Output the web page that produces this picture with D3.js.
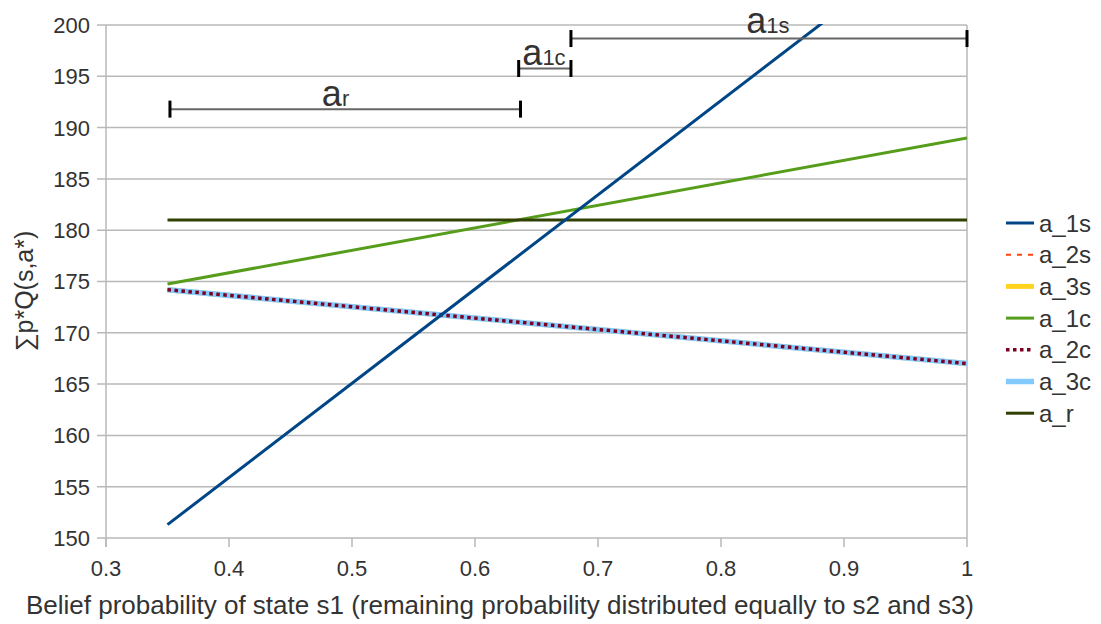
<!DOCTYPE html>
<html>
<head>
<meta charset="utf-8">
<script src="https://cdn.jsdelivr.net/npm/d3@7"></script>
<style>
  body { margin: 0; background: #fff; }
  svg { display: block; }
  text { font-family: "Liberation Sans", Arial, sans-serif; fill: #333; }
</style>
</head>
<body>
<svg id="chart" width="1101" height="624"></svg>
<script>
// ---- data ----
const beliefP = [0.35, 1.0];
const a_1s = [151.3, 211.0];
const a_2s = [174.2, 167.0];
const a_3s = [174.2, 167.0];
const a_1c = [174.75, 189.0];
const a_2c = [174.2, 167.0];
const a_3c = [174.2, 167.0];
const a_r  = [181.0, 181.0];

const seriesNames = ["a_1s", "a_2s", "a_3s", "a_1c", "a_2c", "a_3c", "a_r"];
const seriesValues = [a_1s, a_2s, a_3s, a_1c, a_2c, a_3c, a_r];
const drawOrder = ["a_3s", "a_2s", "a_1c", "a_r", "a_3c", "a_2c", "a_1s"];

const xTicks = [0.3, 0.4, 0.5, 0.6, 0.7, 0.8, 0.9, 1];
const yTicks = [150, 155, 160, 165, 170, 175, 180, 185, 190, 195, 200];

// range annotations
const rangeNames = ["a", "a", "a"];
const rangeSubs = ["r", "1c", "1s"];
const rangeFrom = [0.352, 0.6355, 0.678];
const rangeTo   = [0.637, 0.678, 1.0];
const rangeLevel = [191.8, 195.76, 198.68];
const rangeLabelP = [0.4755, 0.6385, 0.8205];
const rangeLabelY = [192.1, 196.1, 199.2];

const xTitle = "Belief probability of state s1 (remaining probability distributed equally to s2 and s3)";
const yTitle = "∑p*Q(s,a*)";

// ---- styles ----
const styles = {
  a_1s: { color: "#004586", width: 3, dash: null },
  a_2s: { color: "#ff420e", width: 2, dash: "5,6" },
  a_3s: { color: "#ffd320", width: 5, dash: null },
  a_1c: { color: "#579d1c", width: 3, dash: null },
  a_2c: { color: "#7e0021", width: 3.5, dash: "3.5,3.5" },
  a_3c: { color: "#83caff", width: 5.5, dash: null },
  a_r:  { color: "#314004", width: 3, dash: null }
};

const svg = d3.select("#chart");
const L = 106, R = 967, T = 25, B = 538;
const x = d3.scaleLinear().domain([0.3, 1]).range([L, R]);
const y = d3.scaleLinear().domain([150, 200]).range([B, T]);

const gridColor = "#b8b8b8";

svg.append("g").selectAll("line").data(yTicks).join("line")
  .attr("x1", L - 9).attr("x2", R)
  .attr("y1", d => y(d)).attr("y2", d => y(d))
  .attr("stroke", gridColor).attr("stroke-width", 1.5);

svg.append("line").attr("x1", L).attr("x2", L).attr("y1", T).attr("y2", B + 9)
  .attr("stroke", gridColor).attr("stroke-width", 1.5);
svg.append("line").attr("x1", R).attr("x2", R).attr("y1", T).attr("y2", B)
  .attr("stroke", gridColor).attr("stroke-width", 1.5);

svg.append("g").selectAll("line").data(xTicks).join("line")
  .attr("x1", d => x(d)).attr("x2", d => x(d))
  .attr("y1", B).attr("y2", B + 9)
  .attr("stroke", gridColor).attr("stroke-width", 1.5);

svg.append("g").selectAll("text").data(yTicks).join("text")
  .attr("x", 90).attr("y", d => y(d)).attr("dy", "0.36em")
  .attr("text-anchor", "end").attr("font-size", 22)
  .text(d => d);
svg.append("g").selectAll("text").data(xTicks).join("text")
  .attr("x", d => x(d)).attr("y", 576)
  .attr("text-anchor", "middle").attr("font-size", 22)
  .text(d => d3.format("")(d));

svg.append("text").attr("x", 500).attr("y", 614)
  .attr("text-anchor", "middle").attr("font-size", 26).text(xTitle);
svg.append("text").attr("transform", `translate(33, 291) rotate(-90)`)
  .attr("text-anchor", "middle").attr("font-size", 25).text(yTitle);

svg.append("defs").append("clipPath").attr("id", "plotclip")
  .append("rect").attr("x", L).attr("y", T - 1).attr("width", R - L).attr("height", B - T + 2);

const line = d3.line().x(d => x(d[0])).y(d => y(d[1]));
const plot = svg.append("g").attr("clip-path", "url(#plotclip)");
drawOrder.forEach(name => {
  const i = seriesNames.indexOf(name);
  const pts = beliefP.map((p, k) => [p, seriesValues[i][k]]);
  const st = styles[name];
  plot.append("path").datum(pts).attr("d", line)
    .attr("fill", "none").attr("stroke", st.color)
    .attr("stroke-width", st.width)
    .attr("stroke-dasharray", st.dash);
});

const ann = svg.append("g");
rangeNames.forEach((nm, i) => {
  const yy = y(rangeLevel[i]);
  ann.append("line").attr("x1", x(rangeFrom[i])).attr("x2", x(rangeTo[i]))
    .attr("y1", yy).attr("y2", yy).attr("stroke", "#666").attr("stroke-width", 2);
  [rangeFrom[i], rangeTo[i]].forEach(p => {
    ann.append("line").attr("x1", x(p)).attr("x2", x(p))
      .attr("y1", yy - 8.5).attr("y2", yy + 8.5)
      .attr("stroke", "#000").attr("stroke-width", 3);
  });
  const t = ann.append("text").attr("x", x(rangeLabelP[i])).attr("y", y(rangeLabelY[i]))
    .attr("font-size", 36);
  t.append("tspan").text(nm);
  t.append("tspan").attr("font-size", 22).text(rangeSubs[i]);
});

const lg = svg.append("g");
seriesNames.forEach((name, i) => {
  const yy = 223 + i * 31.7;
  const st = styles[name];
  lg.append("line").attr("x1", 1006).attr("x2", 1034).attr("y1", yy).attr("y2", yy)
    .attr("stroke", st.color).attr("stroke-width", st.width)
    .attr("stroke-dasharray", st.dash);
  lg.append("text").attr("x", 1039).attr("y", yy).attr("dy", "0.36em")
    .attr("font-size", 24).text(name);
});
</script>
</body>
</html>
